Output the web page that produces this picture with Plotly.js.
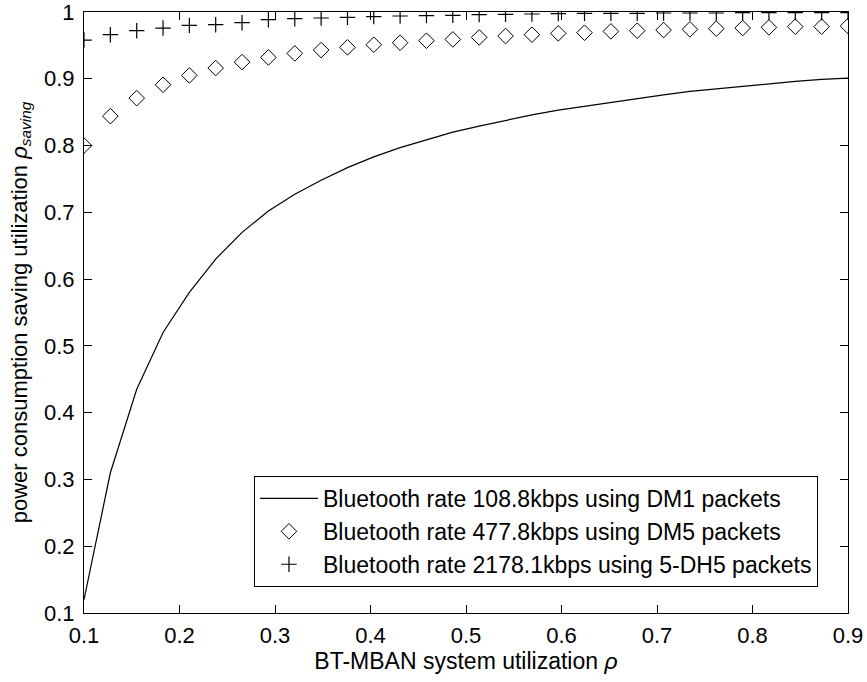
<!DOCTYPE html>
<html>
<head>
<meta charset="utf-8">
<script src="https://cdn.plot.ly/plotly-3.0.1.min.js"></script>
<style>html,body{margin:0;padding:0;background:#fff;}#chart{width:867px;height:682px;}</style>
</head>
<body>
<div id="chart"></div>
<script>
// System utilization rho (30 sample points)
var rho = [0.1000, 0.1276, 0.1552, 0.1828, 0.2103, 0.2379, 0.2655, 0.2931, 0.3207, 0.3483,
           0.3759, 0.4034, 0.4310, 0.4586, 0.4862, 0.5138, 0.5414, 0.5690, 0.5966, 0.6241,
           0.6517, 0.6793, 0.7069, 0.7345, 0.7621, 0.7897, 0.8172, 0.8448, 0.8724, 0.9000];

// DM1 packets, 108.8 kbps (solid line)
var savingDM1 = [0.120, 0.310, 0.435, 0.520, 0.580, 0.630, 0.670, 0.702, 0.727, 0.748,
                 0.767, 0.783, 0.797, 0.809, 0.820, 0.829, 0.838, 0.846, 0.853, 0.859,
                 0.865, 0.871, 0.876, 0.881, 0.885, 0.889, 0.893, 0.896, 0.899, 0.901];

// DM5 packets, 477.8 kbps (diamonds)
var savingDM5 = [0.800, 0.844, 0.871, 0.891, 0.905, 0.916, 0.925, 0.932, 0.938, 0.943,
                 0.947, 0.951, 0.954, 0.957, 0.959, 0.962, 0.964, 0.966, 0.968, 0.969,
                 0.971, 0.972, 0.973, 0.974, 0.975, 0.976, 0.977, 0.978, 0.978, 0.979];

// 5-DH5 packets, 2178.1 kbps (plus signs)
var saving5DH5 = [0.958, 0.966, 0.972, 0.976, 0.980, 0.981, 0.984, 0.9885, 0.990, 0.991,
                  0.992, 0.993, 0.994, 0.9945, 0.995, 0.996, 0.9965, 0.997, 0.9975, 0.998,
                  0.998, 0.998, 0.9985, 0.9985, 0.9985, 0.999, 0.999, 0.999, 0.999, 0.999];

var seriesNames = [
  'Bluetooth rate 108.8kbps using DM1 packets',
  'Bluetooth rate 477.8kbps using DM5 packets',
  'Bluetooth rate 2178.1kbps using 5-DH5 packets'
];

var xTicks = [0.1, 0.2, 0.3, 0.4, 0.5, 0.6, 0.7, 0.8, 0.9];
var yTicks = [0.1, 0.2, 0.3, 0.4, 0.5, 0.6, 0.7, 0.8, 0.9, 1];
var yTickText = ['0.1', '0.2', '0.3', '0.4', '0.5', '0.6', '0.7', '0.8', '0.9', '1'];

var FONT = 'Liberation Sans, Arial, Helvetica, sans-serif';

var traces = [
  {
    x: rho, y: savingDM1, name: seriesNames[0], type: 'scatter', mode: 'lines',
    line: {color: '#000', width: 1.2}
  },
  {
    x: rho, y: savingDM5, name: seriesNames[1], type: 'scatter', mode: 'markers',
    marker: {symbol: 'diamond-open', size: 12, color: '#000', line: {color: '#000', width: 1}}
  },
  {
    x: rho, y: saving5DH5, name: seriesNames[2], type: 'scatter', mode: 'markers',
    marker: {symbol: 'cross-thin-open', size: 11, color: '#000', line: {color: '#000', width: 1.2}}
  }
];

var axisCommon = {
  showgrid: false, zeroline: false,
  showline: true, linecolor: '#000', linewidth: 1,
  mirror: 'allticks', ticks: 'inside', ticklen: 8, tickwidth: 1, tickcolor: '#000',
  ticklabeloverflow: 'allow',
  tickfont: {family: FONT, size: 22, color: '#000'}
};

var layout = {
  width: 867, height: 682,
  margin: {l: 84, r: 19, t: 12, b: 69},
  paper_bgcolor: '#fff', plot_bgcolor: '#fff',
  showlegend: true,
  font: {family: FONT, size: 22, color: '#000'},
  xaxis: Object.assign({}, axisCommon, {
    range: [0.1, 0.9], tickmode: 'array', tickvals: xTicks,
    ticktext: xTicks.map(function (v) { return String(v); }),
    ticklabelstandoff: 3,
    title: {text: 'BT-MBAN system utilization <i>ρ</i>', font: {family: FONT, size: 23, color: '#000'}, standoff: 4}
  }),
  yaxis: Object.assign({}, axisCommon, {
    range: [0.1, 1], tickmode: 'array', tickvals: yTicks, ticktext: yTickText,
    ticklabelstandoff: 4,
    title: {text: 'power consumption saving utilization <i>ρ</i><sub><i>saving</i></sub>', font: {family: FONT, size: 22, color: '#000'}, standoff: 10}
  }),
  legend: {
    x: 0.9607, xanchor: 'right', y: 0.0433, yanchor: 'bottom',
    bgcolor: '#fff', bordercolor: '#000', borderwidth: 1,
    font: {family: FONT, size: 23, color: '#000'},
    itemwidth: 58, tracegroupgap: 0
  }
};

Plotly.newPlot('chart', traces, layout, {displayModeBar: false, staticPlot: true});
</script>
</body>
</html>
